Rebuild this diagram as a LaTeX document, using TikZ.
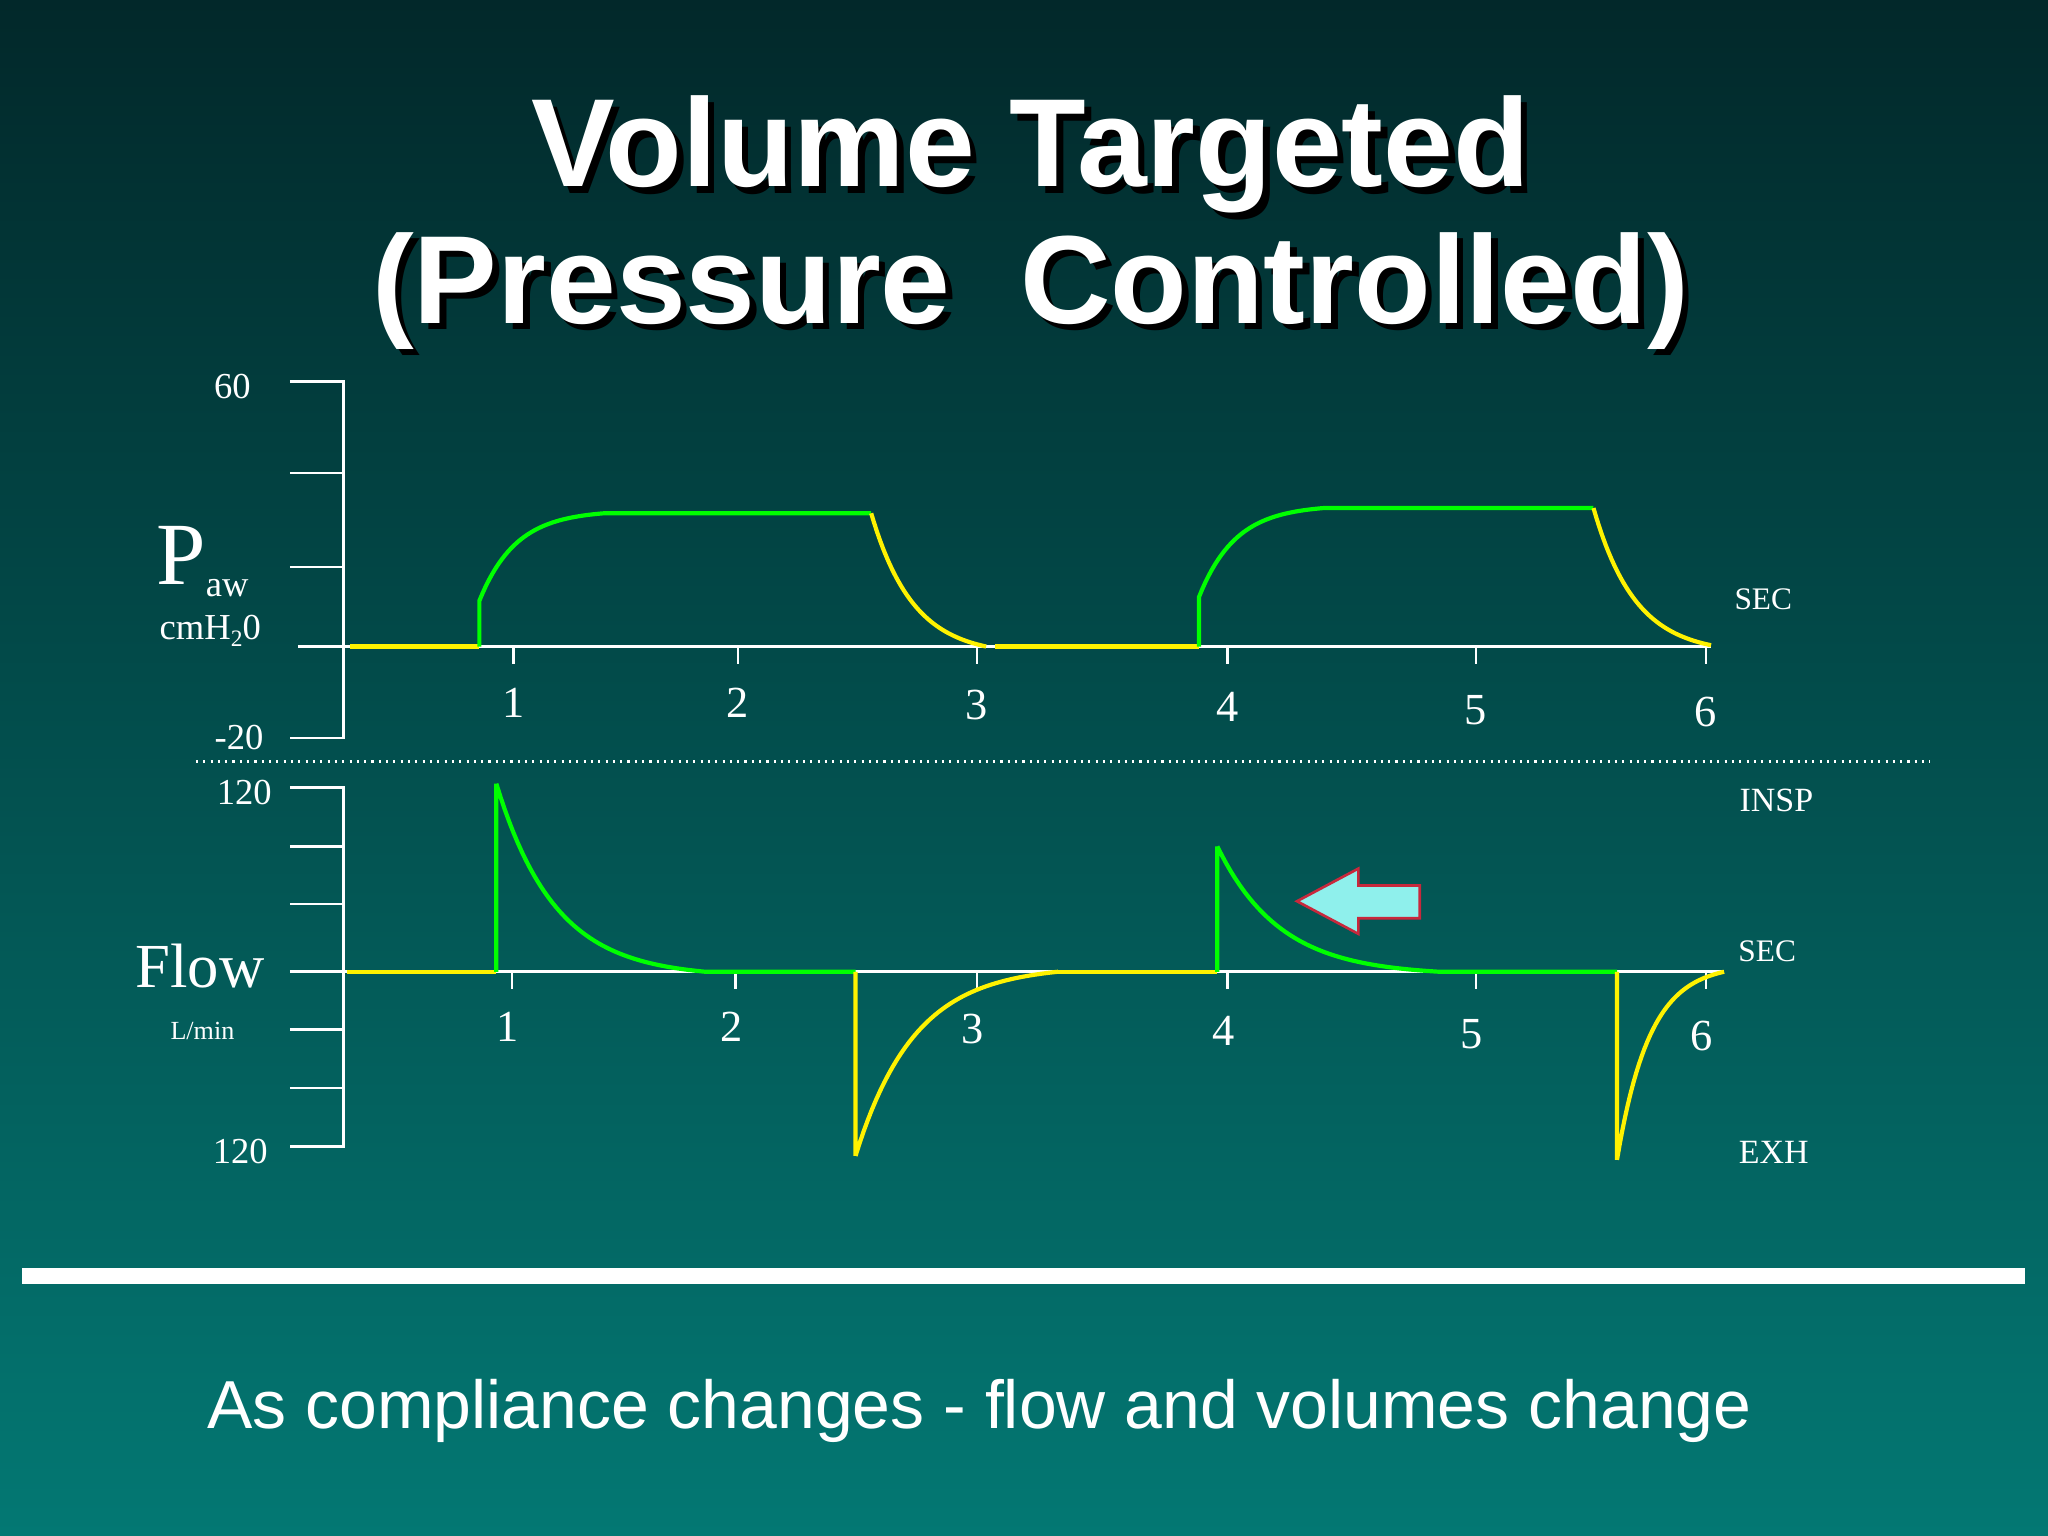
\documentclass[tikz,border=0pt]{standalone}
\usepackage{fontspec}
\setmainfont{Liberation Serif}
\newfontfamily\ssf{Liberation Sans}
\newcommand\shadowtxt[1]{\rlap{\hspace{2.5pt}\raisebox{-2.5pt}{\textcolor{black}{#1}}}#1}
\begin{document}
\begin{tikzpicture}[x=0.5pt,y=-0.5pt,
  ax/.style={white,line width=1pt},
  yel/.style={yellow,line width=1.6pt},
  grn/.style={green,line width=1.6pt},
  lbl/.style={white,font=\fontsize{14}{16}\selectfont},
  num/.style={white,font=\fontsize{17}{19}\selectfont},
  ttl/.style={white,font=\ssf\bfseries\fontsize{48}{56}\selectfont}]
\shade[top color={rgb,255:red,2;green,40;blue,42}, bottom color={rgb,255:red,3;green,120;blue,115}] (0,0) rectangle (1568,1176);
\useasboundingbox (0,0) rectangle (1568,1176);
% title
\node[ttl] (t1) at (789,121) {\shadowtxt{Volume Targeted}};
\node[ttl] (t2) at (789,225) {\shadowtxt{(Pressure\ \ Controlled)}};
% upper axes
\draw[ax] (222,292) -- (263,292) -- (263,565) -- (222,565);
\draw[ax] (222,362) -- (263,362); \draw[ax] (222,434) -- (263,434);
\draw[ax] (228,495) -- (1310,495);
\foreach \x/\n/\yy in {393/1/538,565/2/538,748/3/540,940/4/541,1130/5/544,1306/6/545}{
  \draw[ax] (\x,495) -- (\x,508); \node[num] (pu\n) at (\x,\yy) {\n};}
\node[lbl] (u60) at (178,296) {60};
\node[lbl] (um20) at (183,565) {-20};
\node[white,font=\fontsize{34}{36}\selectfont] (paw) at (155,430) {P\raisebox{-0.3ex}{\fontsize{14}{16}\selectfont aw}};
\node[lbl] (cmh) at (161,483) {cmH\raisebox{-0.4ex}{\fontsize{9}{10}\selectfont 2}0};
\node[white,font=\fontsize{12}{14}\selectfont] (sec1) at (1350,459) {SEC};
\draw[white,dotted,line width=0.8pt] (150,583) -- (1478,583);
% lower axes
\draw[ax] (222,603) -- (263,603) -- (263,878) -- (222,878);
\foreach \yy in {648,692,788,833} \draw[ax] (222,\yy) -- (263,\yy);
\draw[ax] (222,744) -- (1320,744);
\foreach \x/\n/\yy in {392/1/786,563/2/786,748/3/788,940/4/789,1130/5/792,1306/6/793}{
  \draw[ax] (\x,744) -- (\x,757); \node[num] (pl\n) at (\x-3,\yy) {\n};}
\node[lbl] (l120a) at (187,607) {120};
\node[lbl] (l120b) at (184,882) {120};
\node[white,font=\fontsize{24}{26}\selectfont] (flow) at (153,740) {Flow};
\node[white,font=\fontsize{10}{12}\selectfont] (lmin) at (155,789) {L/min};
\node[white,font=\fontsize{13}{15}\selectfont] (insp) at (1360,613) {INSP};
\node[white,font=\fontsize{12}{14}\selectfont] (sec2) at (1353,728) {SEC};
\node[white,font=\fontsize{13}{15}\selectfont] (exh) at (1358,882) {EXH};
% pressure curves
\draw[yel] (268,495) -- (367,495);
\draw[grn] (367,495) -- (367,460) -- plot[domain=0:95,samples=40] ({367+\x},{460-67*(1-exp(-\x/28))/(1-exp(-95/28))}) -- (667,393);
\draw[yel] plot[domain=0:88,samples=40] ({667+\x},{393+102*(1-exp(-\x/32))/(1-exp(-88/32))});
\draw[yel] (762,495) -- (918,495);
\draw[grn] (918,495) -- (918,457) -- plot[domain=0:95,samples=40] ({918+\x},{457-68*(1-exp(-\x/28))/(1-exp(-95/28))}) -- (1220,389);
\draw[yel] plot[domain=0:90,samples=40] ({1220+\x},{389+105*(1-exp(-\x/32))/(1-exp(-90/32))});
% flow curves
\draw[yel] (266,744) -- (380,744);
\draw[grn] (380,744) -- (380,600) -- plot[domain=0:160,samples=50] ({380+\x},{744-144*(exp(-\x/45)-exp(-160/45))/(1-exp(-160/45))}) -- (655,744);
\draw[yel] (655,744) -- (655,885) -- plot[domain=0:155,samples=50] ({655+\x},{744+141*(exp(-\x/45)-exp(-155/45))/(1-exp(-155/45))});
\draw[yel] (810,744) -- (932,744);
\draw[grn] (932,744) -- (932,648) -- plot[domain=0:170,samples=50] ({932+\x},{744-96*(exp(-\x/48)-exp(-170/48))/(1-exp(-170/48))}) -- (1238,744);
\draw[yel] (1238,744) -- (1238,888) -- plot[domain=0:82,samples=40] ({1238+\x},{744+144*(exp(-\x/25)-exp(-82/25))/(1-exp(-82/25))});
% arrow
\draw[fill={rgb,255:red,143;green,240;blue,236}, draw={rgb,255:red,200;green,40;blue,60}, line width=1pt]
  (993,690) -- (1040,665) -- (1040,678) -- (1087,678) -- (1087,703) -- (1040,703) -- (1040,715) -- cycle;
% bottom
\fill[white] (17,971) rectangle (1550,983);
\node[white,font=\ssf\fontsize{26}{30}\selectfont] (cap) at (750,1080) {As compliance changes - flow and volumes change};
\end{tikzpicture}
\end{document}
